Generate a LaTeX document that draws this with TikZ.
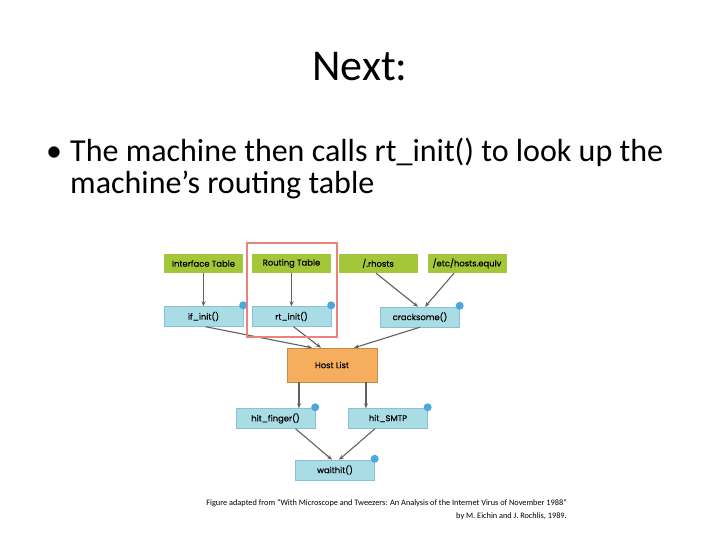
\documentclass[tikz,border=0pt]{standalone}
\usepackage{fontspec}
\setmainfont{Carlito}
\newfontfamily\boxfont[FakeBold=0.4]{Poppins}
\usetikzlibrary{positioning,arrows.meta,calc}

\definecolor{tblgreen}{HTML}{A4C639}
\definecolor{fnblue}{HTML}{A9DCE4}
\definecolor{fnedge}{HTML}{86C3D2}
\definecolor{hostorange}{HTML}{F6AE5E}
\definecolor{dotblue}{HTML}{4AA8DC}
\definecolor{hilite}{HTML}{E8837C}

\begin{document}
\begin{tikzpicture}[
  x=1pt, y=-1pt,
  >=Stealth,
  tblnode/.style={rectangle, fill=tblgreen, minimum width=79pt, minimum height=19pt, inner sep=1pt, font=\boxfont\fontsize{8.4}{10}\selectfont},
  fnnode/.style={rectangle, fill=fnblue, draw=fnedge, line width=0.4pt, minimum width=79pt, minimum height=20pt, inner sep=1pt, font=\boxfont\fontsize{8.4}{10}\selectfont},
  hostnode/.style={rectangle, fill=hostorange, draw=hostorange!80!black, line width=0.4pt, minimum width=90pt, minimum height=34pt, font=\boxfont\fontsize{8.4}{10}\selectfont},
  dotnode/.style={circle, fill=dotblue, minimum size=8pt, inner sep=0pt},
  flow/.style={-{Stealth[length=5pt,width=4pt]}, draw=black!62, line width=1.1pt}
]
  \useasboundingbox (0,0) rectangle (720,540);

  % slide text
  \node[font=\fontsize{44}{50}\selectfont, anchor=base] (title) at (360,81) {Next:};
  \node[font=\fontsize{32}{38}\selectfont, anchor=base west, inner sep=0pt] (bullet) at (46,162) {•};
  \node[font=\fontsize{32}{38}\selectfont, anchor=base west, inner sep=0pt] (line1) at (70,162) {The machine then calls rt\_init() to look up the};
  \node[font=\fontsize{32}{38}\selectfont, anchor=base west, inner sep=0pt] (line2) at (70,194) {machine’s routing table};

  % data sources
  \node[tblnode] (iface) at (203.5,263.5) {Interface Table};
  \node[tblnode] (route) at (291.5,263.5) {Routing Table};
  \node[tblnode] (rhosts) at (378,263.5) {/.rhosts};
  \node[tblnode] (equiv) at (467,263.5) {/etc/hosts.equiv};

  % routines
  \node[fnnode] (ifinit) at (203.5,316.5) {if\_init()};
  \node[fnnode] (rtinit) at (291.5,316.5) {rt\_init()};
  \node[fnnode] (crack) at (420,317) {cracksome()};
  \node[hostnode] (host) at (332,365) {Host List};
  \node[fnnode] (finger) at (275.5,418.5) {hit\_finger()};
  \node[fnnode] (smtp) at (388,418.5) {hit\_SMTP};
  \node[fnnode] (wait) at (335,470) {waithit()};

  \foreach \n in {ifinit,rtinit,crack,finger,smtp,wait}
    \node[dotnode] (dot\n) at ($(\n.north east)+(0,-1)$) {};

  % connections
  \draw[flow] (iface) -- (ifinit);
  \draw[flow] (route) -- (rtinit);
  \draw[flow] ($(rhosts.south)+(-2,0)$) -- ($(crack.north)+(-2,0)$);
  \draw[flow] ($(equiv.south)+(-13,0)$) -- ($(crack.north)+(5,0)$);
  \draw[flow] ($(ifinit.south)+(2,0)$) -- ($(host.north)+(-20,0)$);
  \draw[flow] ($(rtinit.south)+(2,0)$) -- ($(host.north)+(-11,0)$);
  \draw[flow] (crack.south) -- ($(host.north)+(22,0)$);
  \draw[flow] ($(host.south)+(-33,0)$) -- ($(finger.north)+(23.5,0)$);
  \draw[flow] ($(host.south)+(34,0)$) -- ($(smtp.north)+(-22,0)$);
  \draw[flow] ($(finger.south)+(20,0)$) -- ($(wait.north)+(-3,0)$);
  \draw[flow] ($(smtp.south)+(-13,0)$) -- ($(wait.north)+(4,0)$);

  % highlight
  \node[draw=hilite, line width=2pt, minimum width=90pt, minimum height=94pt, inner sep=0pt] (focus) at (292,290) {};

  % source note
  \node[font=\fontsize{8.3}{10}\selectfont, anchor=base east, inner sep=0pt] (cite1) at (567,505) {Figure adapted from “With Microscope and Tweezers: An Analysis of the Internet Virus of November 1988”};
  \node[font=\fontsize{8.3}{10}\selectfont, anchor=base east, inner sep=0pt] (cite2) at (567,518) {by M. Eichin and J. Rochlis, 1989.};
\end{tikzpicture}
\end{document}
